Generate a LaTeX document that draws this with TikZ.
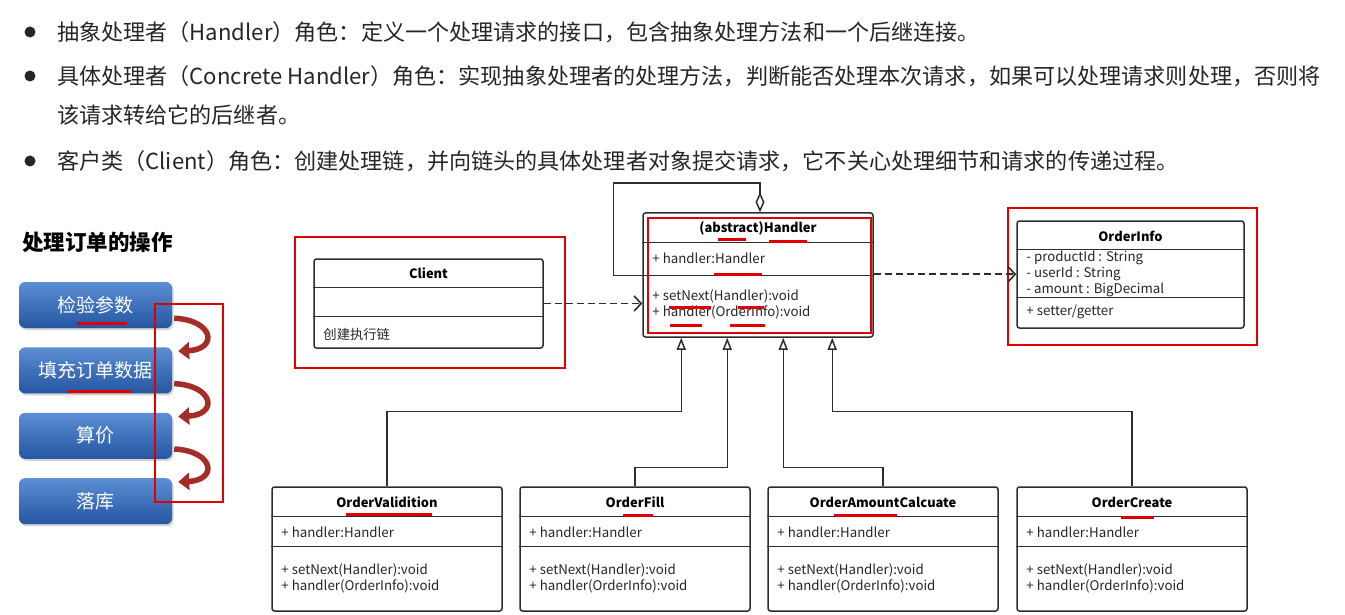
\documentclass[tikz,border=0pt]{standalone}
\usepackage{fontspec}
\setmainfont{Noto Sans CJK SC}
\usetikzlibrary{arrows.meta, positioning, calc, shadows}
\definecolor{umlgray}{RGB}{45,45,45}
\definecolor{markred}{RGB}{225,0,0}
\definecolor{btnlight}{RGB}{92,142,212}
\definecolor{btndark}{RGB}{36,86,162}
\definecolor{curlred}{RGB}{165,45,40}

\begin{document}
\begin{tikzpicture}[x=1pt,y=-1pt,
  % Testo dei punti elenco
  bullettext/.style={anchor=west,inner sep=0pt,text=black!85,font=\fontsize{22.1}{26}\selectfont},
  dot/.style={circle,fill=black!85,inner sep=0pt,minimum size=11pt},
  opbtn/.style={rounded corners=6pt,top color=btnlight,bottom color=btndark,
    drop shadow={opacity=0.35,shadow xshift=1.5pt,shadow yshift=-2pt},
    minimum width=153pt,minimum height=46pt,text=white,font=\fontsize{19}{22}\selectfont},
  curl/.style={draw=curlred,line width=5.5pt,-{Triangle[length=11pt,width=17pt]}},
  cls/.style={draw=umlgray,line width=1.5pt,rounded corners=2.5pt,inner sep=0pt},
  rowline/.style={draw=umlgray,line width=1.5pt},
  clstitle/.style={font=\bfseries\fontsize{12.9}{15}\selectfont,inner sep=0pt},
  member/.style={anchor=west,inner sep=0pt,align=left,text=black!85,font=\fontsize{13.3}{16}\selectfont},
  redbox/.style={draw=markred,line width=2pt},
  redline/.style={draw=markred,line width=3pt},
  dep/.style={draw=umlgray,line width=1.6pt,dashed,dash pattern=on 7pt off 4pt,
    -{Straight Barb[length=7pt,width=15pt]}},
  inherit/.style={draw=umlgray,line width=1.5pt,-{Triangle[open,length=12pt,width=9pt]}},
  aggr/.style={draw=umlgray,line width=1.5pt,-{Diamond[open,length=20pt,width=9pt]}}]

  \fill[white] (0,0) rectangle (1345,615);
  \useasboundingbox (0,0) rectangle (1345,615);

  % elenco dei ruoli
  \node[dot](d1) at (30,32) {};
  \node[dot](d2) at (30,76) {};
  \node[dot](d3) at (30,161) {};
  \node[bullettext](t1) at (57,32) {抽象处理者（Handler）角色：定义一个处理请求的接口，包含抽象处理方法和一个后继连接。};
  \node[bullettext](t2) at (57,76) {具体处理者（Concrete Handler）角色：实现抽象处理者的处理方法，判断能否处理本次请求，如果可以处理请求则处理，否则将};
  \node[bullettext](t2b) at (57,115) {该请求转给它的后继者。};
  \node[bullettext](t3) at (57,161) {客户类（Client）角色：创建处理链，并向链头的具体处理者对象提交请求，它不关心处理细节和请求的传递过程。};

  % operazioni sull'ordine
  \node[anchor=west,inner sep=0pt,font=\bfseries\fontsize{21.5}{26}\selectfont](optitle) at (22,242) {处理订单的操作};
  \node[opbtn](op1) at (95.5,305) {检验参数};
  \node[opbtn,below=19pt of op1](op2) {填充订单数据};
  \node[opbtn,below=19pt of op2](op3) {算价};
  \node[opbtn,below=19pt of op3](op4) {落库};
  \draw[curl] ($(op1.south east)+(2,-10)$) .. controls +(40,2) and +(40,-2) .. ($(op2.north east)+(6,4)$);
  \draw[curl] ($(op2.south east)+(2,-10)$) .. controls +(40,2) and +(40,-2) .. ($(op3.north east)+(6,4)$);
  \draw[curl] ($(op3.south east)+(2,-10)$) .. controls +(40,2) and +(40,-2) .. ($(op4.north east)+(6,4)$);
  \draw[redline] (77,323) -- (127,323);
  \draw[redline] (67,391) -- (132,391);
  \draw[redbox] (155,304) rectangle (223,502);

  % Client
  \node[cls,minimum width=229pt,minimum height=89pt](cl) at (428.5,303.5) {};
  \draw[rowline] ($(cl.north west)+(0,29)$) -- ($(cl.north east)+(0,29)$);
  \draw[rowline] ($(cl.north west)+(0,58)$) -- ($(cl.north east)+(0,58)$);
  \node[clstitle] at ($(cl.north)+(0,15)$) {Client};
  \node[member] at ($(cl.north west)+(10,76)$) {创建执行链};
  \draw[redbox] (295,237) rectangle (565,368);

  % Handler astratto
  \node[cls,minimum width=230pt,minimum height=124pt](hd) at (758,275) {};
  \draw[rowline] ($(hd.north west)+(0,30)$) -- ($(hd.north east)+(0,30)$);
  \draw[rowline] ($(hd.north west)+(0,63)$) -- ($(hd.north east)+(0,63)$);
  \node[clstitle] at ($(hd.north)+(0,16)$) {(abstract)Handler};
  \node[member] at ($(hd.north west)+(10,46)$) {+ handler:Handler};
  \node[member] at ($(hd.north west)+(10,92)$) {+ setNext(Handler):void\\+ handler(OrderInfo):void};
  \draw[redbox] (648,218) rectangle (871,333);
  \draw[redline] (718,239) -- (746,239);
  \draw[redline] (769,241) -- (807,241);
  \draw[redline] (714,274) -- (762,274);
  \draw[redline] (669,307) -- (711,307);
  \draw[redline] (738,307) -- (764,307);
  \draw[redline] (670,325) -- (702,325);
  \draw[redline] (730,325) -- (765,325);

  % OrderInfo
  \node[cls,minimum width=227pt,minimum height=107pt](oi) at (1130.5,274.5) {};
  \draw[rowline] ($(oi.north west)+(0,29)$) -- ($(oi.north east)+(0,29)$);
  \draw[rowline] ($(oi.north west)+(0,77)$) -- ($(oi.north east)+(0,77)$);
  \node[clstitle] at ($(oi.north)+(0,16)$) {OrderInfo};
  \node[member] at ($(oi.north west)+(10,54)$) {- productId : String\\- userId : String\\- amount : BigDecimal};
  \node[member] at ($(oi.north west)+(10,92)$) {+ setter/getter};
  \draw[redbox] (1008,208) rectangle (1257,345);

  % handler concreti
  \foreach \nm/\cx/\ttl in {ov/387/OrderValidition, of/635/OrderFill, oa/883/OrderAmountCalcuate, oc/1132/OrderCreate}{
    \node[cls,minimum width=230pt,minimum height=124pt](\nm) at (\cx,549) {};
    \draw[rowline] ($(\nm.north west)+(0,30)$) -- ($(\nm.north east)+(0,30)$);
    \draw[rowline] ($(\nm.north west)+(0,60)$) -- ($(\nm.north east)+(0,60)$);
    \node[clstitle] at ($(\nm.north)+(0,16)$) {\ttl};
    \node[member] at ($(\nm.north west)+(10,46)$) {+ handler:Handler};
    \node[member] at ($(\nm.north west)+(10,92)$) {+ setNext(Handler):void\\+ handler(OrderInfo):void};
  }
  \draw[redline] (346,514) -- (432,514);
  \draw[redline] (623,515) -- (653,515);
  \draw[redline] (834,515) -- (897,515);
  \draw[redline] (1121,517) -- (1154,517);

  % relazioni
  \draw[dep] (cl.east) -- (cl.east -| hd.west);
  \draw[dep] ($(hd.north east)+(0,62)$) -- ($(oi.west |- hd.north)+(0,62)$);
  \draw[aggr] ($(hd.north west)+(0,63)$) -- ++(-29,0) |- ($(hd.north)+(2,-29)$) -- ($(hd.north)+(2,0)$);
  \draw[inherit] (ov.north) -- ++(0,-75) -| ($(hd.south west)+(39,0)$);
  \draw[inherit] (of.north) -- ++(0,-19) -| ($(hd.south west)+(85,0)$);
  \draw[inherit] (oa.north) -- ++(0,-19) -| ($(hd.south west)+(141,0)$);
  \draw[inherit] (oc.north) -- ++(0,-75) -| ($(hd.south west)+(190,0)$);

\end{tikzpicture}
\end{document}
